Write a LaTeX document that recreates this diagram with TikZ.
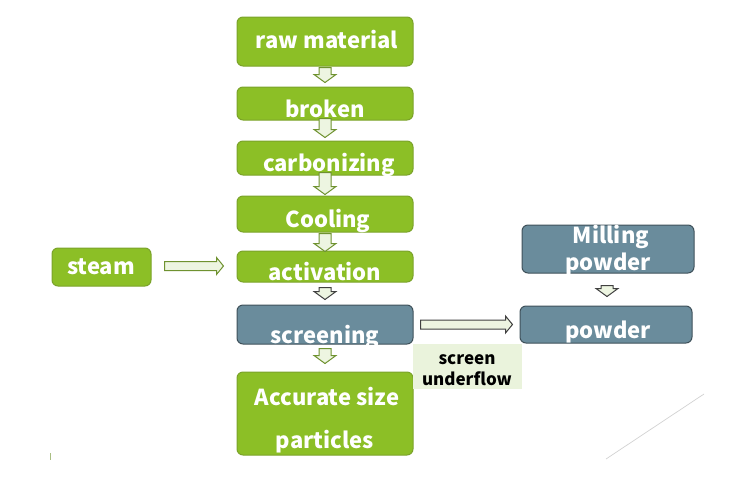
\documentclass[tikz,border=0pt]{standalone}
\usepackage{fontspec}
\setmainfont{Noto Sans CJK SC}
\usetikzlibrary{calc}
\definecolor{gfill}{HTML}{8CBF26}
\definecolor{gline}{HTML}{7BA32A}
\definecolor{bfill}{HTML}{6A8C9C}
\definecolor{bline}{HTML}{3F515A}
\definecolor{afill}{HTML}{EDF5E1}
\definecolor{aline}{HTML}{6F9230}
\definecolor{lblbg}{HTML}{EAF3DC}
\tikzset{
 box/.style={rounded corners=6pt, line width=1pt, inner sep=0pt},
 gbox/.style={box, draw=gline, fill=gfill},
 bbox/.style={box, draw=bline, fill=bfill},
 wtxt/.style={text=white, font=\bfseries\fontsize{22}{26}\selectfont, anchor=base, inner sep=0pt},
 btxt/.style={text=black, font=\bfseries\fontsize{17}{20}\selectfont, anchor=base, inner sep=0pt},
 harrow/.style={draw=aline, fill=afill, line width=1pt, line join=miter},
 darrow/.style={harrow, draw=black!75},
}
\newcommand{\dnarrow}[3][harrow]{%
 \draw[#1] let \p1=(#2), \p2=(#3) in
 (\x1-6pt,\y1) -- (\x1+6pt,\y1) -- (\x1+6pt,\y2+8pt) -- (\x1+11pt,\y2+8pt) --
 (\x2,\y2) -- (\x1-11pt,\y2+8pt) -- (\x1-6pt,\y2+8pt) -- cycle;}
\newcommand{\rtarrow}[3][harrow]{%
 \draw[#1] let \p1=(#2), \p2=(#3) in
 (\x1,\y1+4.5pt) -- (\x2-7pt,\y1+4.5pt) -- (\x2-7pt,\y1+8.5pt) -- (\x2,\y1) --
 (\x2-7pt,\y1-8.5pt) -- (\x2-7pt,\y1-4.5pt) -- (\x1,\y1-4.5pt) -- cycle;}
\begin{document}
\begin{tikzpicture}[x=1pt,y=-1pt]
\useasboundingbox (0,0) rectangle (750,480);
% boxes
\node[gbox, minimum width=176pt, minimum height=49pt] (raw) at (325,41.5) {};
\node[gbox, minimum width=176pt, minimum height=33pt] (brk) at (325,103.5) {};
\node[gbox, minimum width=176pt, minimum height=34pt] (carb) at (325,158) {};
\node[gbox, minimum width=176pt, minimum height=36pt] (cool) at (325,214) {};
\node[gbox, minimum width=176pt, minimum height=31pt] (act) at (325,266.5) {};
\node[bbox, minimum width=176pt, minimum height=39pt] (scr) at (325,324.5) {};
\node[gbox, minimum width=176pt, minimum height=83pt] (acc) at (325,413.5) {};
\node[gbox, minimum width=99pt, minimum height=38pt] (steam) at (101.5,267) {};
\node[bbox, minimum width=172pt, minimum height=48pt] (mill) at (608,249) {};
\node[bbox, minimum width=172pt, minimum height=37pt] (pow) at (606,324.5) {};
\node[fill=lblbg, inner sep=0pt, minimum width=109pt, minimum height=45pt] (lbl) at (467.5,366.5) {};
% arrows
\dnarrow{$(raw.south)+(0,1)$}{$(brk.north)+(0,-4)$}
\dnarrow{$(brk.south)+(0,-2)$}{$(carb.north)+(0,-3)$}
\dnarrow{$(carb.south)+(0,-3)$}{$(cool.north)+(0,-1)$}
\dnarrow{$(cool.south)+(0,1)$}{$(act.north)+(0,1)$}
\dnarrow[darrow]{$(act.south)+(0,5)$}{$(scr.north)+(0,-5)$}
\dnarrow{$(scr.south)+(0,4)$}{$(acc.north)+(0,-8)$}
\dnarrow[darrow]{$(mill.south)+(-1,12)$}{$(pow.north)+(1,-9)$}
\rtarrow{$(steam.east)+(13,-1)$}{$(act.west)+(-13,0)$}
\rtarrow[darrow]{$(scr.east)+(7,0)$}{$(pow.west)+(-7,0)$}
% texts
\node[wtxt] (rawt) at (327,48) {raw material};
\node[wtxt] (brkt) at (325,117) {broken};
\node[wtxt] (carbt) at (329,171) {carbonizing};
\node[wtxt] (coolt) at (328,227) {Cooling};
\node[wtxt] (actt) at (325,280) {activation};
\node[wtxt] (scrt) at (325,343) {screening};
\node[wtxt] (acct1) at (327,405) {Accurate size};
\node[wtxt] (acct2) at (325,448) {particles};
\node[wtxt] (steamt) at (101,274) {steam};
\node[wtxt] (millt1) at (611,243) {Milling};
\node[wtxt] (millt2) at (608,270) {powder};
\node[wtxt] (powt) at (608,338) {powder};
\node[btxt] (lblt1) at (467,364) {screen};
\node[btxt] (lblt2) at (467,385) {underflow};
% decorations
\draw[gray!35, line width=0.7pt] (606,459) -- (704,394);
\draw[aline!60, line width=0.8pt] (50,453) -- (50,460);
\end{tikzpicture}
\end{document}
